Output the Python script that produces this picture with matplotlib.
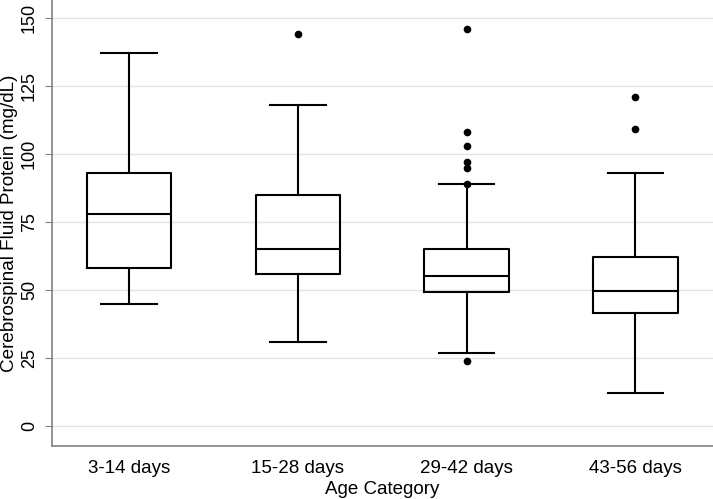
import matplotlib
matplotlib.use("Agg")
import matplotlib.pyplot as plt

categories = ["3-14 days", "15-28 days", "29-42 days", "43-56 days"]
whislo = [45, 31, 27, 12]
q1 = [58, 56, 49.3, 41.4]
med = [78, 65, 55, 49.7]
q3 = [93, 85, 65, 62]
whishi = [137, 118, 89, 93]
fliers = [[], [144], [146, 108, 103, 97, 95, 89, 24], [121, 109]]

plt.rcParams['font.family'] = ['Liberation Sans', 'DejaVu Sans']
fig = plt.figure(figsize=(7.13, 4.99), dpi=100)
ax = fig.add_axes([52/713, 53/499, 661/713, 446/499])

stats = []
for i in range(len(categories)):
    stats.append(dict(label=categories[i], whislo=whislo[i], q1=q1[i], med=med[i],
                      q3=q3[i], whishi=whishi[i], fliers=fliers[i]))

ax.bxp(stats, positions=range(1, 5), widths=0.5, capwidths=0.33,
       boxprops=dict(color='black', linewidth=1.5),
       medianprops=dict(color='black', linewidth=1.5),
       whiskerprops=dict(color='black', linewidth=1.5),
       capprops=dict(color='black', linewidth=1.5),
       flierprops=dict(marker='o', markerfacecolor='black', markeredgecolor='black',
                       markersize=4.5, linestyle='none'))

ax.set_xlim(0.543, 4.46)
ax.set_ylim(-7.35, 156.6)
ax.set_yticks([0, 25, 50, 75, 100, 125, 150])
ax.yaxis.grid(True, color='#e4e4e4', linewidth=1)
ax.set_axisbelow(True)
for s in ['top', 'right']:
    ax.spines[s].set_visible(False)
for s in ['left', 'bottom']:
    ax.spines[s].set_color('#808080')
    ax.spines[s].set_linewidth(1.2)
ax.tick_params(axis='y', colors='#808080', labelcolor='black', length=5, labelsize=13, pad=5)
ax.tick_params(axis='x', length=0, pad=10, labelsize=13.5)
for lab in ax.get_yticklabels():
    lab.set_rotation(90)
    lab.set_va('center')
ax.set_xlabel("Age Category", fontsize=13.5, labelpad=3)
ax.set_ylabel("Cerebrospinal Fluid Protein (mg/dL)", fontsize=13.6, labelpad=2)

fig.savefig("out.png", dpi=100)
